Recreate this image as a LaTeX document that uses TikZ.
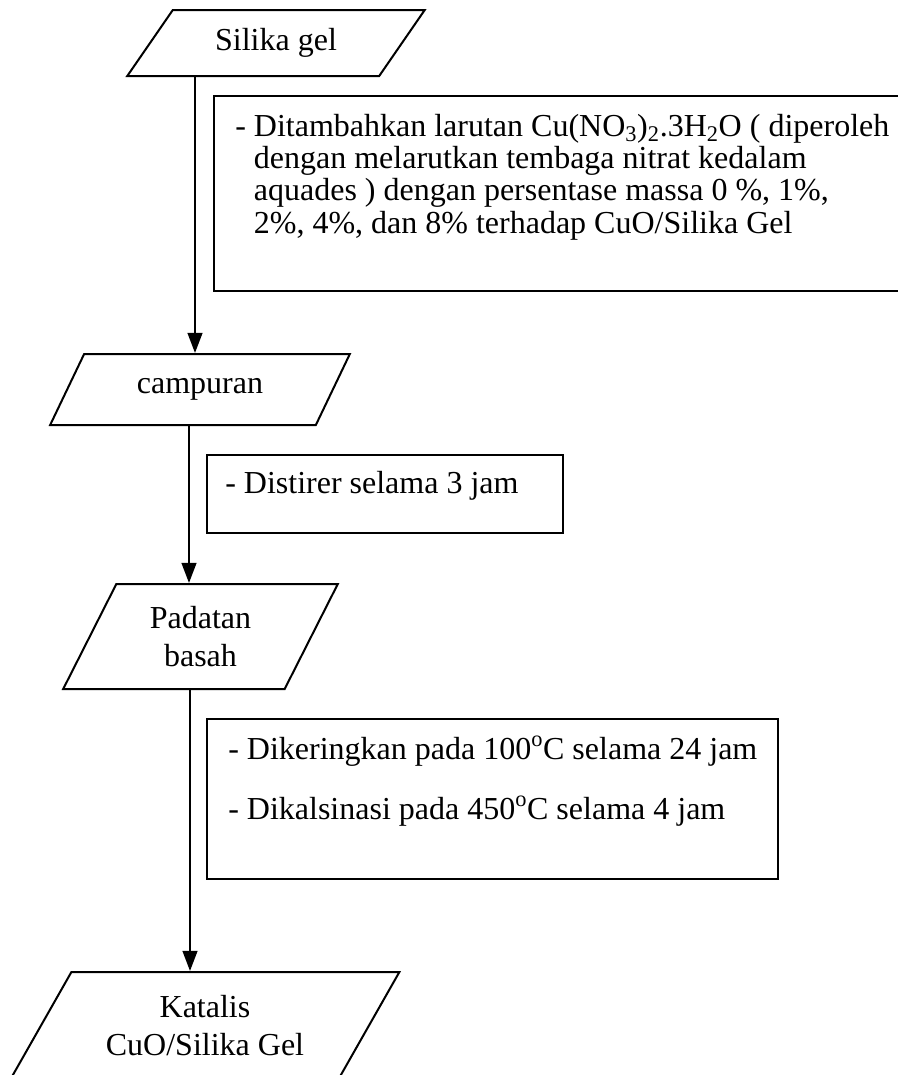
\documentclass[tikz,border=0pt]{standalone}
\usepackage{fontspec}
\setmainfont{Liberation Serif}
\usetikzlibrary{arrows.meta}
\usetikzlibrary{shapes.geometric}

\tikzset{
    flowdata/.style={trapezium, draw, line width=1.5pt, trapezium stretches=true, inner sep=0pt, align=center, font=\fontsize{24}{29}\selectfont},
    procbox/.style={draw, line width=1.5pt, rectangle, anchor=north west, inner sep=0pt},
    proctext/.style={anchor=base west, inner sep=0pt, align=left, font=\fontsize{24}{24.2}\selectfont},
    flow/.style={-{Triangle[length=15pt,width=11pt]}, line width=1.5pt}
}

\begin{document}
\begin{tikzpicture}[x=0.75pt, y=-0.75pt]
        \useasboundingbox (0,0) rectangle (897,1075);
        \node[flowdata, trapezium left angle=47.3, trapezium right angle=132.7, minimum width=223.5pt, minimum height=49.5pt] (silika) at (276,43) {Silika gel};
        \node[flowdata, trapezium left angle=49.8, trapezium right angle=130.2, minimum width=225pt, minimum height=53.25pt] (campuran) at (200,389.5) {campuran};
        \node[flowdata, trapezium left angle=62.4, trapezium right angle=117.6, minimum width=206.25pt, minimum height=78.75pt] (padatan) at (200.5,636.5) {Padatan\\basah};
        \node[flowdata, trapezium left angle=53.6, trapezium right angle=126.4, minimum width=292.5pt, minimum height=80.25pt] (katalis) at (205,1025.5) {Katalis\\CuO/Silika Gel};
        \node[procbox, minimum width=522.75pt, minimum height=146.25pt] (larutan) at (213,95) {};
        \node[proctext] (larutantext) at (235,233) {- Ditambahkan larutan Cu(NO\textsubscript{3})\textsubscript{2}.3H\textsubscript{2}O ( diperoleh\\
            \hphantom{- }dengan melarutkan tembaga nitrat kedalam\\
            \hphantom{- }aquades ) dengan persentase massa 0 \%, 1\%,\\
            \hphantom{- }2\%, 4\%, dan 8\% terhadap CuO/Silika Gel};
        \node[procbox, minimum width=267pt, minimum height=58.5pt] (stirer) at (206,454) {};
        \node[proctext] (stirertext) at (225,493) {- Distirer selama 3 jam};
        \node[procbox, minimum width=428.25pt, minimum height=120pt] (kalsinasi) at (206,718) {};
        \node[proctext] (kalsinasitext) at (228,819) {- Dikeringkan pada 100\textsuperscript{o}C selama 24 jam\\[20.8pt]
            - Dikalsinasi pada 450\textsuperscript{o}C selama 4 jam};
        \draw[flow] (silika.south -| 195,0) -- (campuran.north -| 195,0);
        \draw[flow] (campuran.south -| 189,0) -- (padatan.north -| 189,0);
        \draw[flow] (padatan.south -| 190,0) -- (katalis.north -| 190,0);
    \end{tikzpicture}
\end{document}
